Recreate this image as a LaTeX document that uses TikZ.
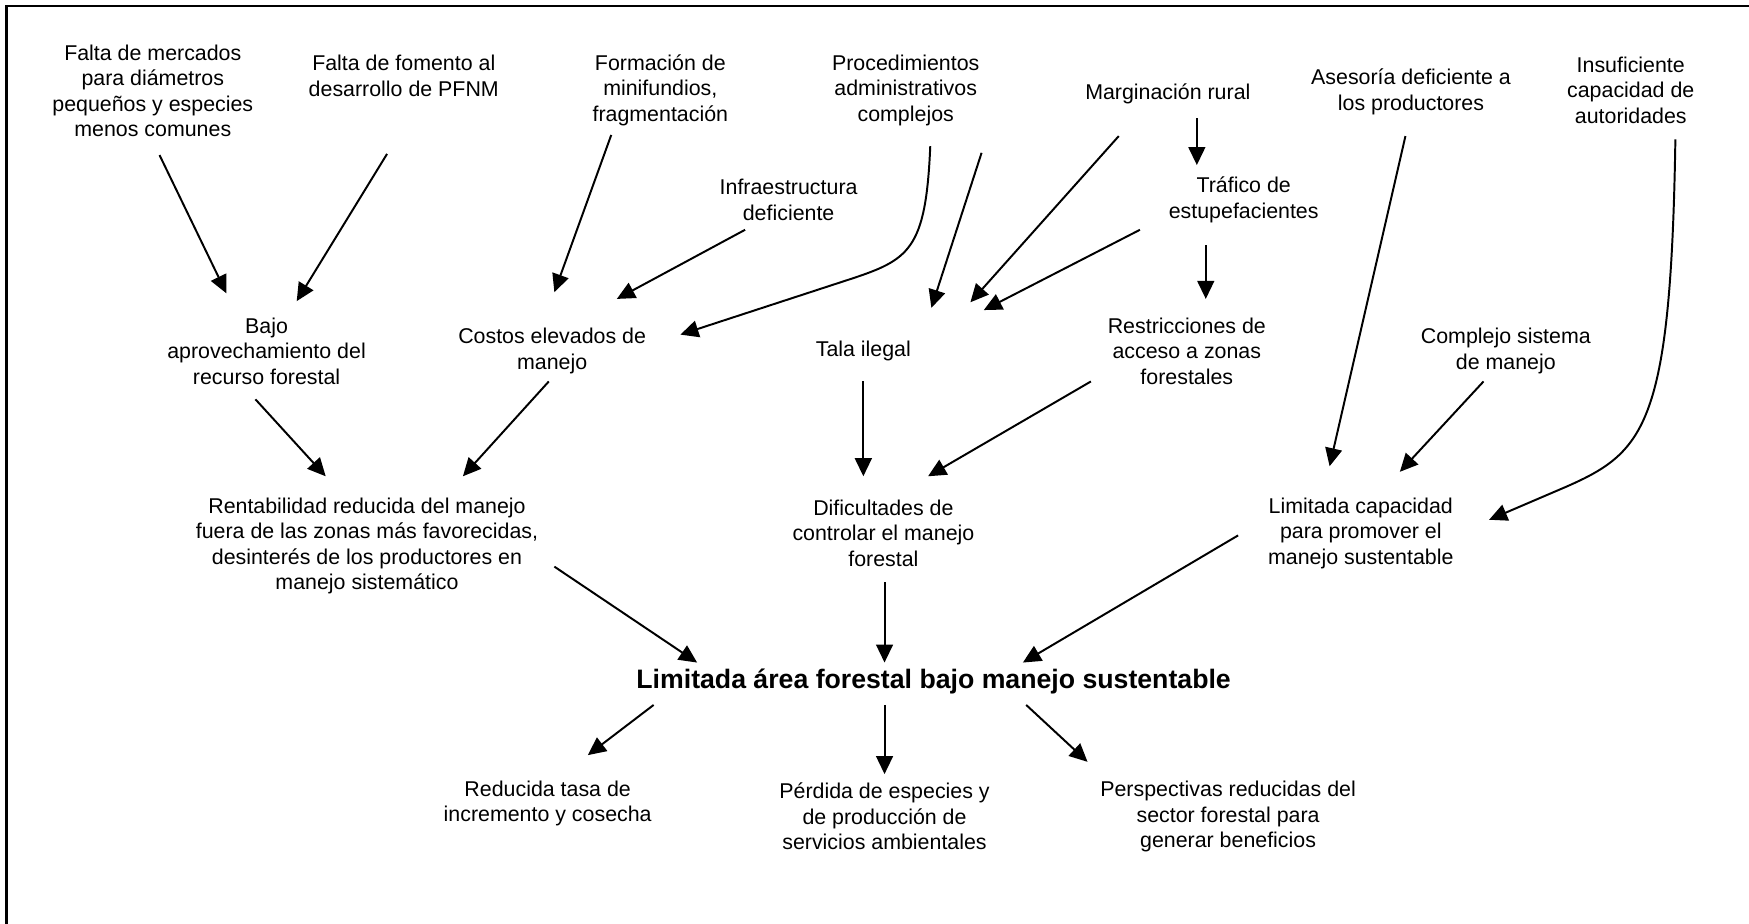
\documentclass[tikz,border=0pt]{standalone}
\usepackage{fontspec}
\setmainfont{Liberation Sans}
\usetikzlibrary{positioning}
\usetikzlibrary{calc}
\usetikzlibrary{arrows.meta}

\tikzset{
    texto/.style={align=center, inner sep=0pt, font=\fontsize{5.45}{6.5}\selectfont},
    problema/.style={align=center, inner sep=0pt, font=\fontsize{6.8}{8}\selectfont\bfseries},
    flecha/.style={-{Triangle[length=4.6pt,width=4.3pt]}, line width=0.5pt}
}

\begin{document}
\begin{tikzpicture}[x=0.01cm, y=-0.01cm]
    \useasboundingbox (0,0) rectangle (1568,828);

        % Marco
        \draw[line width=0.7pt] (6,828) -- (6,5.5) -- (1568,5.5);

        % Definiendo nodos
        \foreach \pos/\name/\txt in {{(137,81.5)/mercados/Falta de mercados\\para diámetros\\pequeños y especies\\menos comunes},
                                     {(362,68)/fomento/Falta de fomento al\\desarrollo de PFNM},
                                     {(592,81)/minifundios/Formación de\\minifundios,\\fragmentación},
                                     {(812,81)/procedimientos/Procedimientos\\administrativos\\complejos},
                                     {(1047,84)/marginacion/Marginación rural},
                                     {(1265,82.5)/asesoria/Asesoría deficiente a\\los productores},
                                     {(1462,81)/insuficiente/Insuficiente\\capacidad de\\autoridades},
                                     {(707,179)/infraestructura/Infraestructura\\deficiente},
                                     {(1115,179)/trafico/Tráfico de\\estupefacientes},
                                     {(239,315)/bajo/Bajo\\aprovechamiento del\\recurso forestal},
                                     {(495,314.5)/costos/Costos elevados de\\manejo},
                                     {(774,315)/tala/Tala ilegal},
                                     {(1064,315)/restricciones/Restricciones de\\acceso a zonas\\forestales},
                                     {(1350,314.5)/complejo/Complejo sistema\\de manejo},
                                     {(329,489.5)/rentabilidad/Rentabilidad reducida del manejo\\fuera de las zonas más favorecidas,\\desinterés de los productores en\\manejo sistemático},
                                     {(792,478)/dificultades/Dificultades de\\controlar el manejo\\forestal},
                                     {(1220,478)/limitada/Limitada capacidad\\para promover el\\manejo sustentable},
                                     {(491,720.5)/reducida/Reducida tasa de\\incremento y cosecha},
                                     {(793,732)/perdida/Pérdida de especies y\\de producción de\\servicios ambientales},
                                     {(1101,732)/perspectivas/Perspectivas reducidas del\\sector forestal para\\generar beneficios}}
            \node[texto] (\name) at \pos {\txt};

        \node[problema] (problema) at (837,611) {Limitada área forestal bajo manejo sustentable};

        % Definiendo flechas
        \foreach \a/\ax/\ay/\b/\bx/\by in {mercados/6/57.5/bajo/-36/-52, fomento/-15/70/bajo/27/-45,
                                           minifundios/-44/40/costos/2/-52.5, infraestructura/-39/27/costos/58/-46.5,
                                           procedimientos/68/56/tala/61/-39, marginacion/-44/38/tala/96/-44,
                                           trafico/-93/27/tala/108/-37, marginacion/26/22/trafico/-42/-31,
                                           trafico/-34/41/restricciones/17/-47, asesoria/-5/39.5/limitada/-28/-60,
                                           complejo/-20/27.5/limitada/35/-55, bajo/-10/43/rentabilidad/-37/-62.5,
                                           costos/-3/27.5/rentabilidad/86/-62.5, tala/0/27/dificultades/-18/-51,
                                           restricciones/-86/27/dificultades/40/-51, rentabilidad/168/18.5/problema/-212/-17,
                                           dificultades/1/44/problema/-44/-17, limitada/-110/2/problema/80/-17,
                                           problema/-251/21/reducida/36/-43.5, problema/-44/21/perdida/0/-38,
                                           problema/83/21/perspectivas/-126/-49}
            \draw[flecha] ($(\a)+(\ax,\ay)$) -- ($(\b)+(\bx,\by)$);

        \draw[flecha] ($(procedimientos)+(22,50)$) .. controls +(-4,94) and +(55,-18) .. ($(costos)+(265,-63.5)$) -- ($(costos)+(115,-14.5)$);
        \draw[flecha] ($(insuficiente)+(40,44)$) .. controls +(-4,255) and +(70,-31) .. ($(limitada)+(185,-42)$) -- ($(limitada)+(115,-12)$);

\end{tikzpicture}
\end{document}
